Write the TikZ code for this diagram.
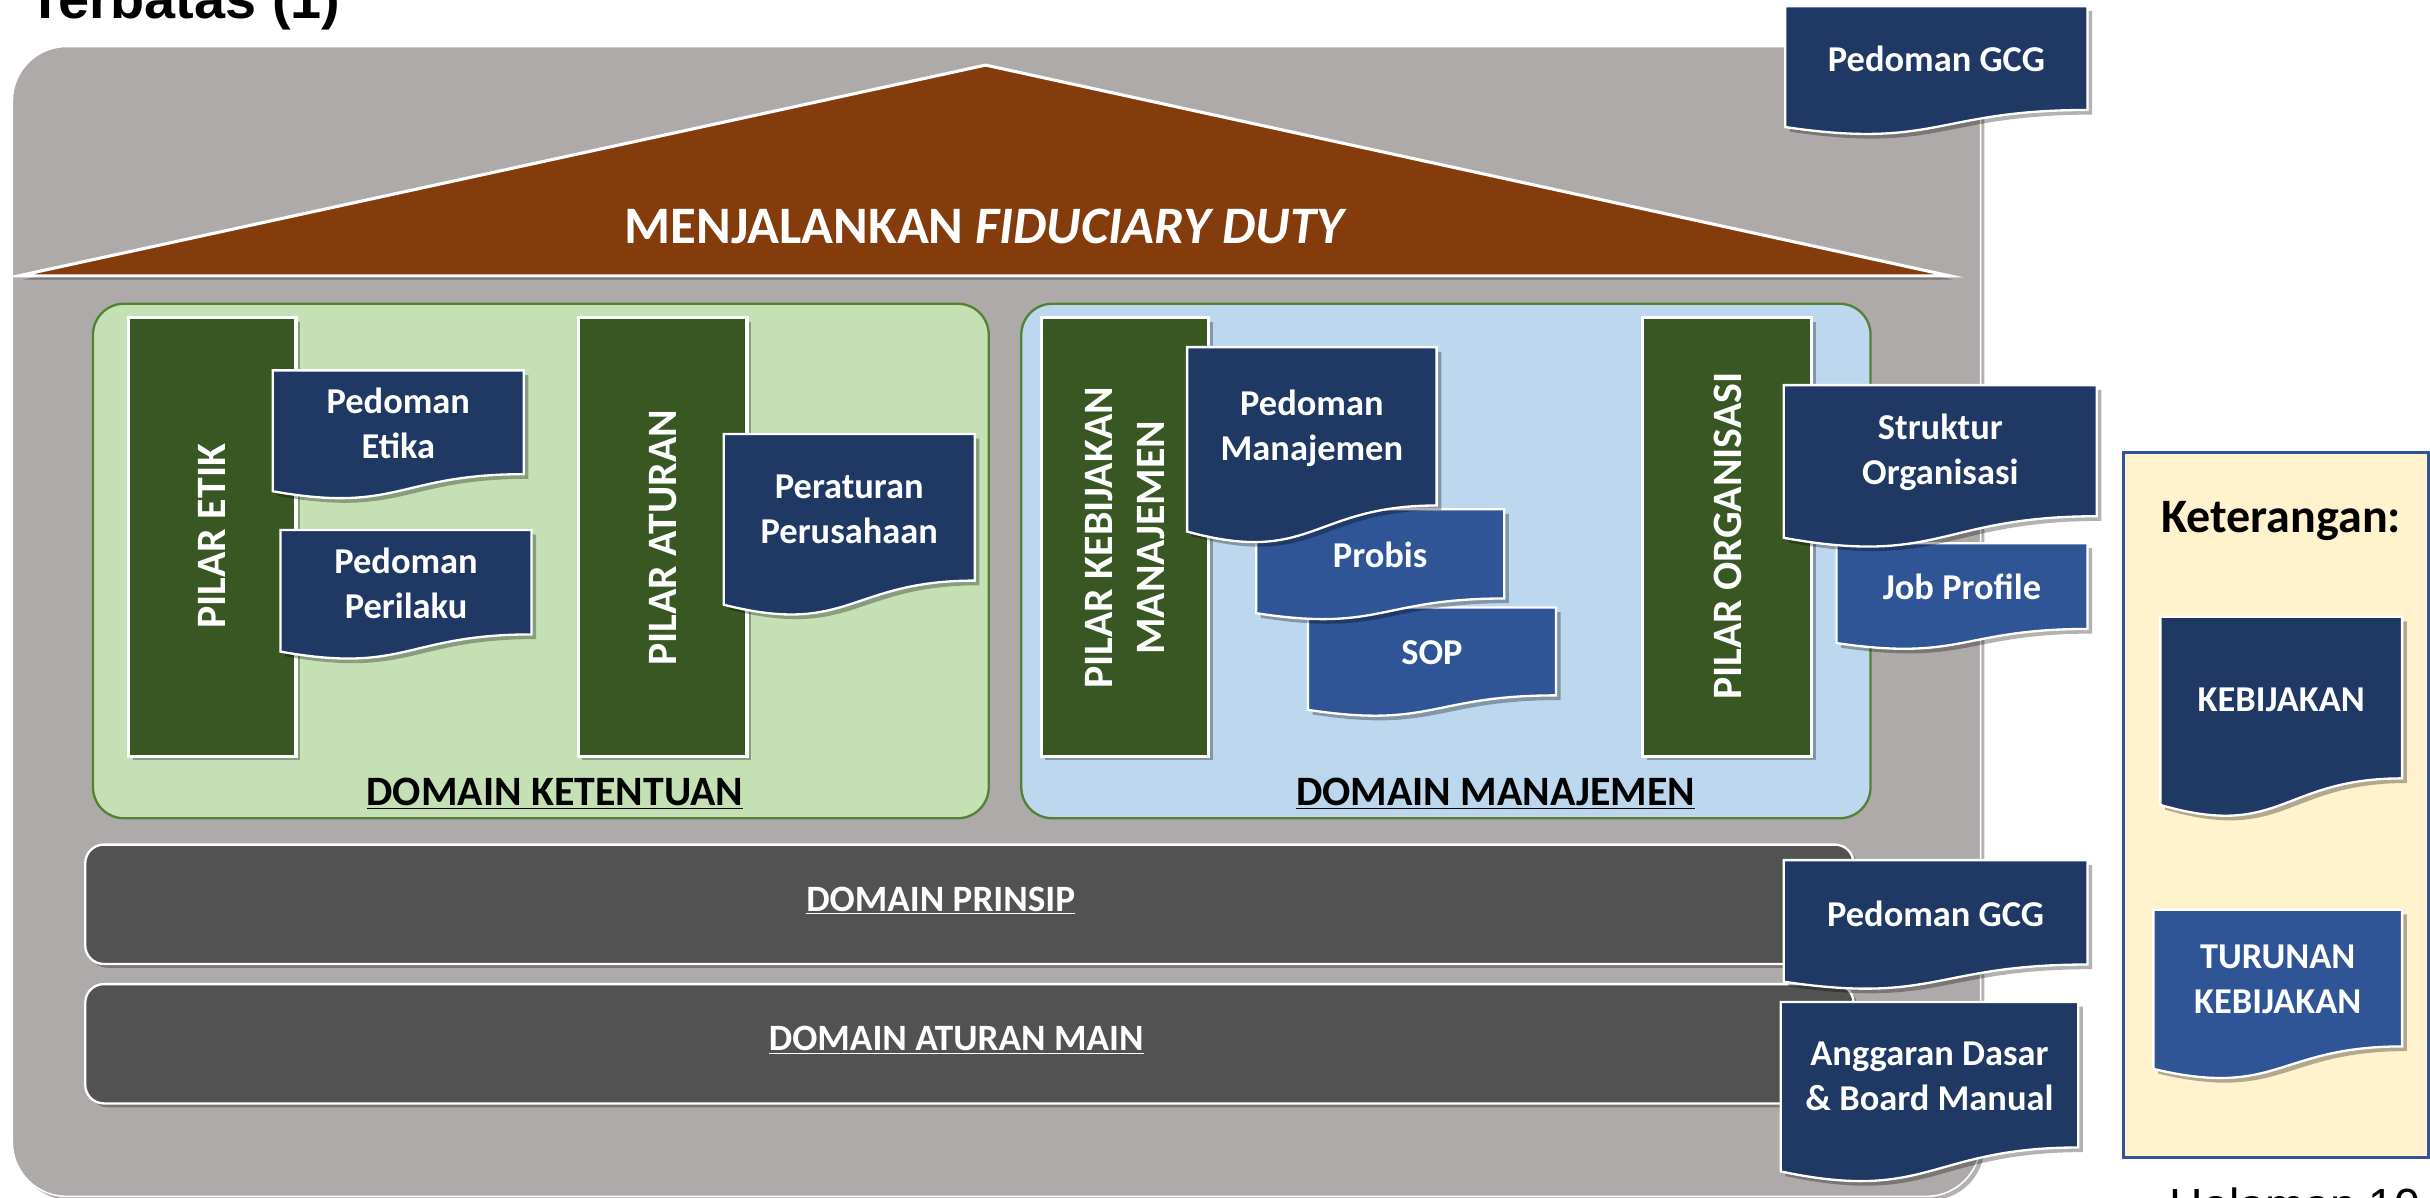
\documentclass[tikz,border=0pt]{standalone}
\usepackage{fontspec}
\setmainfont{Carlito}
\newfontfamily\arialfont{Liberation Sans}
\usetikzlibrary{shadows}
\definecolor{bggrey}{RGB}{174,170,169}
\definecolor{roofbrown}{RGB}{132,60,12}
\definecolor{greenbox}{RGB}{197,224,180}
\definecolor{greenborder}{RGB}{84,130,53}
\definecolor{bluebox}{RGB}{189,215,238}
\definecolor{pillargreen}{RGB}{56,87,35}
\definecolor{docdark}{RGB}{31,56,100}
\definecolor{doclight}{RGB}{47,85,151}
\definecolor{darkbar}{RGB}{82,82,82}
\definecolor{legendfill}{RGB}{255,242,204}
\definecolor{legendborder}{RGB}{47,85,151}
\newcommand{\docnode}[7]{%
  \fill[black, opacity=0.3, shift={(3,3)}] (#2,#3) -- ({#2+#4},#3) -- ({#2+#4},{#3+0.802*#5}) .. controls ({#2+0.5*#4},{#3+0.802*#5}) and ({#2+0.5*#4},{#3+1.1075*#5}) .. (#2,{#3+0.934*#5}) -- cycle;
  \draw[docedge, fill=#6] (#2,#3) -- ({#2+#4},#3) -- ({#2+#4},{#3+0.802*#5}) .. controls ({#2+0.5*#4},{#3+0.802*#5}) and ({#2+0.5*#4},{#3+1.1075*#5}) .. (#2,{#3+0.934*#5}) -- cycle;
  \node[doctext] (#1) at ({#2+0.5*#4},{#3+0.41*#5}) {#7};
}
\begin{document}
\begin{tikzpicture}[x=1pt,y=-1pt,
  shad/.style={drop shadow={shadow xshift=2.5pt,shadow yshift=-2.5pt,opacity=0.3,fill=black}},
  docedge/.style={draw=white, line width=1.5},
  doctext/.style={text=white, font=\bfseries\fontsize{23.5}{29}\selectfont, align=center, inner sep=0},
  pillarbox/.style={fill=pillargreen, draw=white, line width=2, shad},
  pillartext/.style={text=white, font=\bfseries\fontsize{27}{33}\selectfont, rotate=90, align=center, inner sep=0},
  domlabel/.style={text=black, font=\bfseries\fontsize{27}{30}\selectfont, anchor=base, inner sep=0},
  barbox/.style={fill=darkbar, draw=white, line width=1.5, rounded corners=12, shad},
  barlabel/.style={text=white, font=\bfseries\fontsize{24}{28}\selectfont, anchor=base, inner sep=0}
]
\useasboundingbox (0,0) rectangle (1568,773);
\fill[white] (0,0) rectangle (1568,773);

% cut-off header and footer texts
\node[anchor=base west, font=\arialfont\bfseries\fontsize{36}{40}\selectfont, inner sep=0] (title) at (18,12) {Terbatas (1)};
\node[anchor=base west, font=\arialfont\fontsize{30}{34}\selectfont, inner sep=0] (page) at (1400,788) {Halaman 10};

% background house
\draw[fill=bggrey, draw=white, line width=1, rounded corners=35, shad] (8,30) rectangle (1278,772);

% roof
\draw[fill=roofbrown, draw=white, line width=2, line join=miter, shad] (12,178) -- (636,42) -- (1258,178) -- cycle;
\node[text=white, font=\bfseries\fontsize{34}{40}\selectfont, inner sep=0] (roof) at (636,146) {MENJALANKAN \textit{FIDUCIARY DUTY}};

% domain boxes
\draw[fill=greenbox, draw=greenborder, line width=1.5, rounded corners=20] (60,196) rectangle (638,528);
\draw[fill=bluebox, draw=greenborder, line width=1.5, rounded corners=20] (659,196) rectangle (1207,528);
\node[domlabel] (dk) at (358,520) {\underline{DOMAIN KETENTUAN}};
\node[domlabel] (dm) at (965,520) {\underline{DOMAIN MANAJEMEN}};

% pillars
\draw[pillarbox] (83,205) rectangle (191,488);
\node[pillartext] (p1) at (137,346) {PILAR ETIK};
\draw[pillarbox] (373,205) rectangle (482,488);
\node[pillartext] (p2) at (428,347) {PILAR ATURAN};
\draw[pillarbox] (672,205) rectangle (780,488);
\node[pillartext] (p3) at (726,347) {PILAR KEBIJAKAN\\MANAJEMEN};
\draw[pillarbox] (1060,205) rectangle (1169,488);
\node[pillartext] (p4) at (1115,346) {PILAR ORGANISASI};

% documents in domains
\docnode{etika}{176}{239}{162}{83.5}{docdark}{Pedoman\\Etika}
\docnode{perilaku}{181}{342}{162}{84}{docdark}{Pedoman\\Perilaku}
\docnode{peraturan}{467}{280}{162}{118}{docdark}{Peraturan\\Perusahaan}
\docnode{sop}{844}{392}{160}{70.7}{doclight}{SOP}
\docnode{probis}{810.6}{328.6}{160}{71.8}{doclight}{Probis}
\docnode{manajemen}{766}{224}{161}{127.4}{docdark}{Pedoman\\Manajemen}
\docnode{jobprofile}{1185}{350.5}{162}{69}{doclight}{Job Profile}
\docnode{struktur}{1151}{248.5}{202}{105.5}{docdark}{Struktur\\Organisasi}

% base bars
\draw[barbox] (55,545) rectangle (1196,622);
\node[barlabel] (dp) at (607,588) {\underline{DOMAIN PRINSIP}};
\draw[barbox] (55,635) rectangle (1196,712);
\node[barlabel] (dam) at (617,678) {\underline{DOMAIN ATURAN MAIN}};

% documents on the right edge
\docnode{gcgtop}{1152}{4}{195}{83.5}{docdark}{Pedoman GCG}
\docnode{gcglow}{1151}{555}{196}{84}{docdark}{Pedoman GCG}
\docnode{anggaran}{1149}{646.6}{192}{117}{docdark}{Anggaran Dasar\\\& Board Manual}

% legend
\draw[fill=legendfill, draw=legendborder, line width=2] (1370,292) rectangle (1567,747);
\node[font=\bfseries\fontsize{31}{36}\selectfont, inner sep=0] (ket) at (1472,336) {Keterangan:};
\docnode{kebijakan}{1394}{398}{156}{130}{docdark}{KEBIJAKAN}
\docnode{turunan}{1389.5}{587}{160.5}{110}{doclight}{TURUNAN\\KEBIJAKAN}
\end{tikzpicture}
\end{document}
